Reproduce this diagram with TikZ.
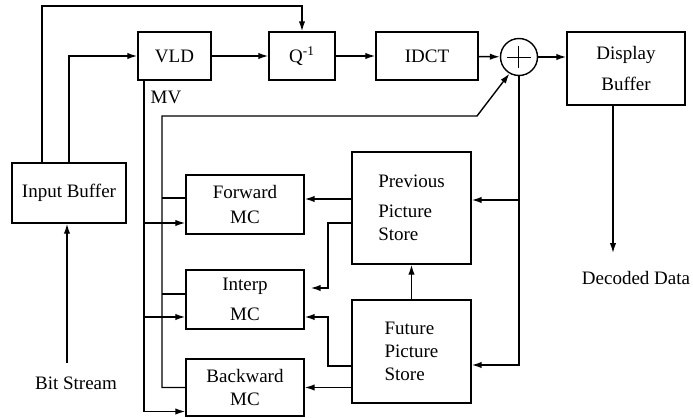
\documentclass[tikz,border=0pt]{standalone}
\usepackage{fontspec}
\setmainfont{Liberation Serif}
\usetikzlibrary{arrows.meta}

\begin{document}
\begin{tikzpicture}[x=0.5pt, y=-0.5pt, line width=0.7pt,
    blk/.style={draw, align=center, inner sep=1pt},
    arr/.style={-{Latex[length=5pt,width=3.2pt]}},
    every node/.style={font=\fontsize{9.5}{11.5}\selectfont}]
  \useasboundingbox (0,0) rectangle (693,418);

  \node[blk, minimum width=57pt, minimum height=30pt] (inbuf) at (69,193) {Input Buffer};
  \node[blk, minimum width=36.5pt, minimum height=24pt] (vld) at (174.5,56) {VLD};
  \node[blk, minimum width=33pt, minimum height=24pt] (qinv) at (302,56) {Q\textsuperscript{-1}};
  \node[blk, minimum width=51pt, minimum height=24pt] (idct) at (427,56) {IDCT};
  \node[draw, circle, minimum size=18.5pt, inner sep=0pt] (add) at (519,57) {};
  \node[blk, minimum width=59pt, minimum height=36.5pt] (dispbuf) at (626,68.5) {Display\\[4pt]Buffer};
  \node[blk, minimum width=59pt, minimum height=29.5pt] (fwd) at (245,204.5) {Forward\\[1pt]MC};
  \node[blk, minimum width=59pt, minimum height=29.5pt] (interp) at (245,299.5) {Interp\\[3.5pt]MC};
  \node[blk, minimum width=59pt, minimum height=28.5pt] (bwd) at (245,387.5) {Backward\\MC};
  \node[blk, align=left, minimum width=59.5pt, minimum height=56pt] (prev) at (411.5,208) {Previous\\[3.5pt]Picture\\Store};
  \node[blk, align=left, minimum width=59.5pt, minimum height=51.5pt] (fut) at (411.5,351.5) {Future\\Picture\\Store};
  \node (mv) at (166,97) {MV};
  \node (bits) at (76,383) {Bit Stream};
  \node (dec) at (636,278) {Decoded Data};

  \draw[line width=0.5pt] ([xshift=-6pt]add.center) -- ([xshift=6pt]add.center);
  \draw[line width=0.5pt] ([yshift=-5.5pt]add.center) -- ([yshift=5.5pt]add.center);

  \coordinate (loop) at (42,6);
  \coordinate (mvx) at (144,0);
  \coordinate (fbx) at (162,116);
  \coordinate (fbk) at (477,116);
  \coordinate (pvx) at (328,223);
  \coordinate (fvx) at (328,366);
  \coordinate (dtip) at (613,253);
  \coordinate (bsbot) at (67,363);
  \coordinate (fin) at ([yshift=-9.25pt]fwd.west);
  \coordinate (fout) at ([yshift=3.25pt]fwd.west);
  \coordinate (iin) at ([yshift=-8.75pt]interp.west);
  \coordinate (iout) at ([yshift=2.75pt]interp.west);
  \coordinate (bin) at ([yshift=-12pt]bwd.west);
  \coordinate (bout) at (bwd.west);
  \coordinate (pin) at ([yshift=4pt]prev.east);
  \coordinate (uin) at ([yshift=-6.75pt]fut.east);
  \coordinate (fr) at ([yshift=2.75pt]fwd.east);
  \coordinate (ir1) at ([yshift=5.75pt]interp.east);
  \coordinate (ir2) at ([yshift=-8.75pt]interp.east);

  \draw[arr] (inbuf.north -| loop) |- (loop -| qinv) -- (qinv.north);
  \draw[arr] (inbuf.north) |- (vld.west);
  \draw[arr] (vld) -- (qinv);
  \draw[arr] (qinv) -- (idct);
  \draw[arr] (idct) -- (add);
  \draw[arr] (add.east) -- (add.east -| dispbuf.west);
  \draw[arr] (dispbuf.south -| dtip) -- (dtip);
  \draw[arr] (bsbot) -- (inbuf.south -| bsbot);

  \draw[arr] (vld.south -| mvx) |- (bin);
  \draw[arr] (fin -| mvx) -- (fin);
  \draw[arr] (iin -| mvx) -- (iin);

  \draw[arr] (bout) -| (fbx) -- (fbk) -- (add.240);
  \draw (fout) -- (fout -| fbx);
  \draw (iout) -- (iout -| fbx);

  \draw[arr] (add.south) |- (uin);
  \draw[arr] (pin -| add) -- (pin);

  \draw[arr] (fr -| prev.west) -- (fr);
  \draw[arr, shorten >=3pt] (pvx -| prev.west) -- (pvx) |- (ir1);
  \draw[arr] (fvx -| fut.west) -- (fvx) |- (ir2);
  \draw[arr] (bwd.east -| fut.west) -- (bwd.east);
  \draw[arr] (fut) -- (prev);
\end{tikzpicture}
\end{document}
